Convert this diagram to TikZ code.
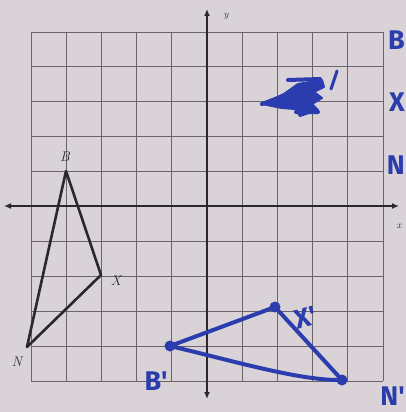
\documentclass[tikz,border=0pt]{standalone}
\usepackage{fontspec}
\newfontfamily\handfont{Fira Sans}
\usetikzlibrary{arrows.meta}
\definecolor{paper}{HTML}{D9D3D7}
\definecolor{gridc}{HTML}{6B6569}
\definecolor{inkc}{HTML}{2A282D}
\definecolor{penblue}{HTML}{2B3DAE}
\tikzset{
  gridline/.style={draw=gridc, line width=0.9pt},
  axisline/.style={draw=inkc, line width=1.3pt, -{Latex[length=7pt,width=6pt]}},
  tri/.style={draw=inkc, line width=2.6pt, line join=round},
  vlabel/.style={text=inkc, font=\itshape\fontsize{14}{14}\selectfont, inner sep=0pt},
  axlabel/.style={text=inkc, font=\itshape\fontsize{10}{10}\selectfont, inner sep=0pt},
  bluetri/.style={draw=penblue, line width=4pt, line join=round, line cap=round},
  bluedot/.style={fill=penblue, circle, minimum size=11pt, inner sep=0pt},
  bluelabel/.style={text=penblue, font=\handfont\bfseries\fontsize{27}{27}\selectfont, inner sep=0pt},
  scribble/.style={draw=penblue, line width=4pt, line cap=round, line join=round},
}
\begin{document}
\begin{tikzpicture}[x=1pt,y=-1pt]
\path[fill=paper] (0,0) rectangle (406,412);
\useasboundingbox (0,0) rectangle (406,412);
\clip (0,0) rectangle (406,412);
% grid
\foreach \i in {0,...,10} {
  \draw[gridline] ({31+35.2*\i},32) -- ({31+35.2*\i},381);
  \draw[gridline] (31,{32+34.9*\i}) -- (383,{32+34.9*\i});
}
% axes
\coordinate (xl) at (4,206);
\coordinate (xr) at (399,206);
\coordinate (yt) at (207,9);
\coordinate (yb) at (207,399);
\draw[axisline] (207,206) -- (xr);
\draw[axisline] (207,206) -- (xl);
\draw[axisline] (207,206) -- (yt);
\draw[axisline] (207,206) -- (yb);
\node[axlabel] (ylab) at (226,16) {y};
\node[axlabel] (xlab) at (399,226) {x};
% original triangle
\coordinate (B) at (66,171);
\coordinate (X) at (101,275);
\coordinate (N) at (27,347);
\draw[tri] (B) -- (X) -- (N) -- cycle;
\node[vlabel] (Blab) at (65,157) {B};
\node[vlabel] (Xlab) at (116,281) {X};
\node[vlabel] (Nlab) at (17,362) {N};
% blue image triangle
\node[bluedot] (Bp) at (170,346) {};
\node[bluedot] (Xp) at (275,307) {};
\node[bluedot] (Np) at (342,380) {};
\draw[bluetri] (Bp.center) -- (Xp.center) -- (Np.center) .. controls (300,381) and (230,360) .. (Bp.center);
\node[bluelabel, rotate=15] (Xplab) at (306,318) {X'};
\node[bluelabel] (Bplab) at (156,381) {B'};
\node[bluelabel, anchor=east] (Nplab) at (405,396) {N'};
% scribbled label
\path[fill=penblue, draw=penblue, line width=2pt, line join=round]
  (262,104) -- (284,94) -- (298,84) -- (322,80) -- (324,87) -- (314,92) -- (322,98)
  -- (312,104) -- (318,110) -- (300,116) -- (295,109) -- (282,108) -- cycle;
\draw[scribble] (262,104) -- (300,90) (288,80) -- (320,79) (296,112) -- (318,112);
\draw[scribble, line width=3pt] (337,71) -- (331,89);
% letters at right edge
\node[bluelabel, anchor=east] (r1) at (405,40) {B};
\node[bluelabel, anchor=east] (r2) at (405,102) {X};
\node[bluelabel, anchor=east] (r3) at (405,165) {N};
\end{tikzpicture}
\end{document}
